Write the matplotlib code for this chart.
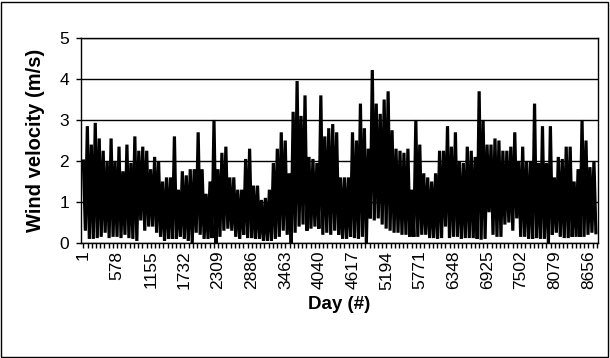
import numpy as np
import matplotlib
matplotlib.use("Agg")
import matplotlib.pyplot as plt
from matplotlib.ticker import MultipleLocator
from matplotlib.patches import Rectangle

plt.rcParams['font.family'] = ['Liberation Sans', 'DejaVu Sans']

n_days = 8784
day_labels = [1 + 577 * i for i in range(16)]
y_ticks = [0, 1, 2, 3, 4, 5]

# wind velocity: top and bottom of each narrow slice, left to right
peaks = [2.0, 2.85, 2.4, 2.93, 2.55, 2.25, 2.0, 2.55, 2.0, 2.35, 1.75, 2.4, 1.95, 2.6, 2.25, 2.35, 2.25, 1.8, 2.1,
         2.0, 1.5, 1.6, 1.6, 2.6, 1.3, 1.75, 1.65, 1.8, 1.8, 2.7, 1.8, 1.2, 1.5, 3.0, 1.8, 2.2, 2.35, 1.6, 1.6, 1.3, 1.3,
         2.05, 2.3, 1.4, 1.4, 1.05, 1.1, 1.3, 1.95, 2.3, 2.7, 2.5, 1.7, 3.2, 3.95, 3.1, 3.6, 2.1, 2.05, 1.95, 3.6, 2.6, 2.8,
         2.9, 2.7, 1.6, 1.6, 1.6, 2.7, 2.5, 3.4, 2.8, 2.3, 4.22, 3.4, 3.15, 3.5, 3.7, 2.75, 2.3, 2.25, 2.2, 2.3, 1.3, 3.0, 2.4,
         1.7, 1.6, 1.5, 1.7, 2.25, 2.25, 2.85, 2.35, 2.7, 2.0, 1.95, 2.35, 2.25, 2.1, 3.7, 3.0, 2.4, 2.4, 2.55, 2.5, 2.25, 2.25, 2.35,
         2.7, 2.0, 2.35, 2.0, 2.0, 3.4, 1.95, 2.85, 1.95, 2.85, 1.6, 2.1, 2.05, 2.35, 2.35, 1.5, 1.8, 3.0, 2.5, 1.85, 2.0]
troughs = [0.3, 0.1, 0.1, 0.12, 0.15, 0.25, 0.12, 0.15, 0.15, 0.12, 0.2, 0.12, 0.1, 0.05, 0.55, 0.3, 0.4, 0.4, 0.25,
           0.15, 0.05, 0.1, 0.1, 0.1, 0.15, 0.1, 0.05, 0.0, 0.25, 0.2, 0.1, 0.1, 0.12, 0.0, 0.15, 0.3, 0.35, 0.3, 0.15, 0.1, 0.2,
           0.12, 0.12, 0.1, 0.1, 0.05, 0.05, 0.05, 0.1, 0.15, 0.3, 0.2, 0.0, 0.25, 0.4, 0.45, 0.3, 0.35, 0.4, 0.35, 0.2, 0.25, 0.2,
           0.3, 0.2, 0.1, 0.1, 0.15, 0.12, 0.1, 0.15, 0.0, 0.6, 0.55, 0.6, 0.45, 0.35, 0.3, 0.25, 0.25, 0.2, 0.2, 0.15, 0.15, 0.15, 0.2,
           0.2, 0.12, 0.12, 0.1, 0.12, 0.4, 0.12, 0.15, 0.15, 0.1, 0.12, 0.12, 0.12, 0.1, 0.08, 0.1, 0.75, 0.2, 0.15, 0.15, 0.45, 0.5, 0.3,
           0.6, 0.15, 0.15, 0.1, 0.1, 0.12, 0.1, 0.1, 0.0, 0.2, 0.25, 0.15, 0.12, 0.12, 0.15, 0.15, 0.15, 0.15, 0.2, 0.25, 0.25]

vel = np.empty(2 * len(peaks))
vel[0::2] = peaks
vel[1::2] = troughs
days = np.linspace(1, n_days, len(vel))

fig = plt.figure(figsize=(6.1, 3.58), dpi=100)
ax = fig.add_axes([81 / 610, 1 - 243 / 358, 517 / 610, 205 / 358])

ax.plot(days, vel, color='black', lw=2.3, solid_joinstyle='miter', zorder=3)

ax.set_xlim(-40, 8820)
ax.set_ylim(0, 5)
ax.set_yticks(y_ticks)
ax.set_xticks(day_labels)
ax.set_xticklabels([str(d) for d in day_labels], rotation=90)
ax.xaxis.set_minor_locator(MultipleLocator(577 / 8, offset=1))
ax.tick_params(axis='both', which='both', direction='out', length=3.5, width=1, color='black', labelsize=12.5)
ax.tick_params(axis='x', pad=2)
ax.tick_params(axis='y', pad=5)
ax.grid(axis='y', color='black', lw=1)
for s in ax.spines.values():
    s.set_color('black')
    s.set_linewidth(1)

ax.set_ylabel('Wind velocity (m/s)', fontweight='bold', fontsize=14.5)
ax.set_xlabel('Day (#)', fontweight='bold', fontsize=13.5)
ax.yaxis.set_label_coords(-0.07, 0.5)
ax.xaxis.set_label_coords(0.5, -0.26)

fig.patches.append(Rectangle((0.002, 0.003), 0.994, 0.992, transform=fig.transFigure,
                             fill=False, ec='black', lw=1))

fig.savefig('out.png', dpi=100)
